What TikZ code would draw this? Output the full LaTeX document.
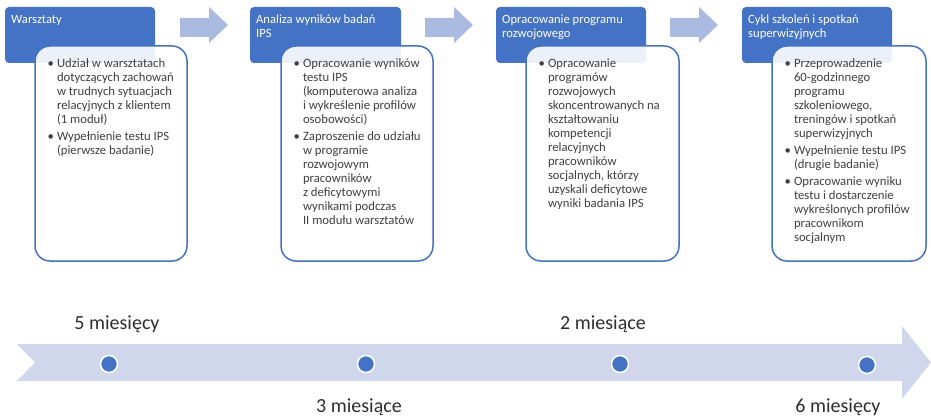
\documentclass[tikz,border=0pt]{standalone}
\usepackage{fontspec}
\setmainfont{Carlito}
\definecolor{headblue}{RGB}{68,114,196}
\definecolor{stepblue}{RGB}{170,186,224}
\definecolor{lineblue}{RGB}{208,215,236}
\definecolor{txtgray}{RGB}{64,64,64}
\newcommand{\blist}[1]{\begin{tabular}[t]{@{}l@{\hspace{3pt}}l@{}}#1\end{tabular}}
\newcommand{\hlines}[1]{\begin{tabular}[t]{@{}l@{}}#1\end{tabular}}

\begin{document}
\begin{tikzpicture}[x=1pt,y=-1pt,
	head/.style={fill=headblue,rounded corners=4pt},
	headtxt/.style={text=white,font=\fontsize{12.6}{14}\selectfont,anchor=base west,inner sep=0pt},
	body/.style={draw=headblue,line width=1.5pt,fill=white,fill opacity=0.9,rounded corners=15pt},
	bodytxt/.style={text=txtgray,font=\fontsize{12.7}{14}\selectfont,anchor=base west,inner sep=0pt},
	dot/.style={circle,fill=headblue,draw=white,line width=1.5pt,minimum size=17pt,inner sep=0pt},
	when/.style={text=txtgray!70!black,font=\fontsize{20}{24}\selectfont,anchor=base,inner sep=0pt}]
			\useasboundingbox (0,0) rectangle (931,417);
			
			% headers
			\fill[head] (5,7) rectangle (155,63);
			\fill[head] (250,7) rectangle (401,63);
			\fill[head] (496,7) rectangle (646,63);
			\fill[head] (742,7) rectangle (892,63);
			\node[headtxt] (w1) at (11,24) {Warsztaty};
			\node[headtxt] (w2) at (256,24) {\hlines{Analiza wyników badań\\IPS}};
			\node[headtxt] (w3) at (502,24) {\hlines{Opracowanie programu\\rozwojowego}};
			\node[headtxt] (w4) at (748,24) {\hlines{Cykl szkoleń i spotkań\\superwizyjnych}};
			
			% step arrows
			\foreach \s in {0,245,490}
				\fill[stepblue,xshift=\s] (180,18) -- (209,18) -- (209,7) -- (228,25) -- (209,43) -- (209,37) -- (180,37) -- cycle;
			
			% bodies
			\draw[body] (35,46) rectangle (187,261);
			\draw[body] (281,46) rectangle (433,261);
			\draw[body] (526,46) rectangle (679,261);
			\draw[body] (772,46) rectangle (926,261);
			\node[bodytxt] (t1) at (47.5,67.5) {\blist{%
				\textbullet & Udział w warsztatach\\
				& dotyczących zachowań\\
				& w trudnych sytuacjach\\
				& relacyjnych z klientem\\
				& (1 moduł)\\[3pt]
				\textbullet & Wypełnienie testu IPS\\
				& (pierwsze badanie)}};
			\node[bodytxt] (t2) at (293.5,67.5) {\blist{%
				\textbullet & Opracowanie wyników\\
				& testu IPS\\
				& (komputerowa analiza\\
				& i wykreślenie profilów\\
				& osobowości)\\[3pt]
				\textbullet & Zaproszenie do udziału\\
				& w programie\\
				& rozwojowym\\
				& pracowników\\
				& z deficytowymi\\
				& wynikami podczas\\
				& II modułu warsztatów}};
			\node[bodytxt] (t3) at (538.5,67.5) {\blist{%
				\textbullet & Opracowanie\\
				& programów\\
				& rozwojowych\\
				& skoncentrowanych na\\
				& kształtowaniu\\
				& kompetencji\\
				& relacyjnych\\
				& pracowników\\
				& socjalnych, którzy\\
				& uzyskali deficytowe\\
				& wyniki badania IPS}};
			\node[bodytxt] (t4) at (784.5,67.5) {\blist{%
				\textbullet & Przeprowadzenie\\
				& 60-godzinnego\\
				& programu\\
				& szkoleniowego,\\
				& treningów i spotkań\\
				& superwizyjnych\\[3pt]
				\textbullet & Wypełnienie testu IPS\\
				& (drugie badanie)\\[3pt]
				\textbullet & Opracowanie wyniku\\
				& testu i dostarczenie\\
				& wykreślonych profilów\\
				& pracownikom\\
				& socjalnym}};
			
			% timeline
			\fill[lineblue] (17,344) -- (902,344) -- (902,326) -- (931,362.5) -- (902,399) -- (902,381) -- (17,381) -- (35,362.5) -- cycle;
			\node[dot] (d1) at (109,364) {};
			\node[dot] (d2) at (366,364) {};
			\node[dot] (d3) at (620,364) {};
			\node[dot] (d4) at (867,365) {};
			\node[when] (m1) at (117,329) {5 miesięcy};
			\node[when] (m2) at (359,412) {3 miesiące};
			\node[when] (m3) at (603,329) {2 miesiące};
			\node[when] (m4) at (838,412) {6 miesięcy};
\end{tikzpicture}
\end{document}
